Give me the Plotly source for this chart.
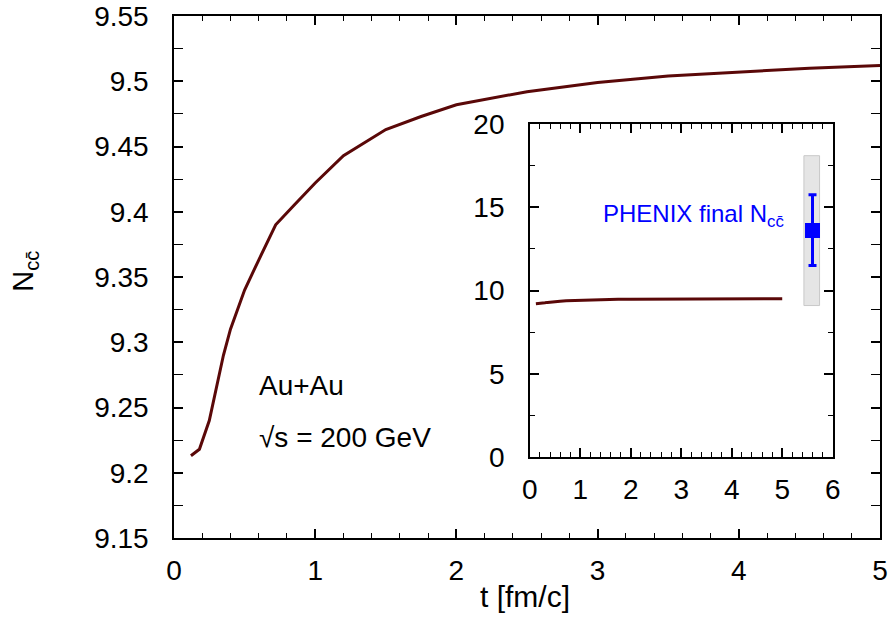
import plotly.graph_objects as go

# Main curve: N_ccbar vs t
t_vals = [0.12, 0.18, 0.25, 0.3, 0.35, 0.4, 0.5, 0.6, 0.72, 0.85, 1.0, 1.2, 1.5, 1.75, 2.0, 2.5, 3.0, 3.5, 4.0, 4.5, 5.0]
n_vals = [9.213, 9.218, 9.24, 9.265, 9.29, 9.31, 9.34, 9.363, 9.39, 9.405, 9.422, 9.443, 9.463, 9.473, 9.482, 9.492, 9.499, 9.504, 9.507, 9.510, 9.512]

# PHENIX point
phenix_x = [5.6]
phenix_y = [13.6]
phenix_err_plus = [2.15]
phenix_err_minus = [2.1]
phenix_sys = [9.1, 18.1]
phenix_band_x = [5.43, 5.74]

line_color = "#5a0808"
font_family = "Liberation Sans, Arial, sans-serif"
TICK = 28

fig = go.Figure()
fig.add_trace(go.Scatter(x=t_vals, y=n_vals, mode="lines",
                         line=dict(color=line_color, width=3), xaxis="x", yaxis="y",
                         showlegend=False))
# inset
fig.add_shape(type="rect", xref="x2", yref="y2",
              x0=phenix_band_x[0], x1=phenix_band_x[1], y0=phenix_sys[0], y1=phenix_sys[1],
              fillcolor="#e5e5e5", line=dict(color="#c8c8c8", width=1), layer="below")
fig.add_trace(go.Scatter(x=t_vals, y=n_vals, mode="lines",
                         line=dict(color=line_color, width=3), xaxis="x2", yaxis="y2",
                         showlegend=False))
fig.add_trace(go.Scatter(x=phenix_x, y=phenix_y, mode="markers",
                         marker=dict(symbol="square", size=15, color="#0000ff"),
                         error_y=dict(type="data", symmetric=False, array=phenix_err_plus,
                                      arrayminus=phenix_err_minus, color="#0000ff",
                                      thickness=3, width=4),
                         xaxis="x2", yaxis="y2", showlegend=False))

axis_common = dict(showline=True, linecolor="black", linewidth=1.5, mirror="ticks",
                   ticks="inside", tickcolor="black", showgrid=False, zeroline=False,
                   automargin=False, ticklabeloverflow="allow",
                   tickfont=dict(family=font_family, size=TICK, color="black"))

fig.update_layout(
    width=894, height=634,
    margin=dict(l=174, r=14, t=16, b=96),
    plot_bgcolor="white", paper_bgcolor="white",
    font=dict(family=font_family, color="black"),
    xaxis=dict(**axis_common, ticklabelstandoff=7, domain=[0, 1], range=[0, 5], dtick=1, tick0=0,
               ticklen=9, tickwidth=1.5,
               minor=dict(ticks="inside", dtick=0.2, ticklen=5, tickwidth=1.2, tickcolor="black")),
    yaxis=dict(**axis_common, ticklabelstandoff=18, domain=[0, 1], range=[9.15, 9.55], dtick=0.05,
               tick0=9.15, ticklen=9, tickwidth=1.5,
               minor=dict(ticks="inside", dtick=0.025, ticklen=9, tickwidth=1.2, tickcolor="black")),
    xaxis2=dict(**axis_common, ticklabelstandoff=7, domain=[0.504, 0.933], anchor="y2", range=[0, 6],
                dtick=1, tick0=0, ticklen=9, tickwidth=1.5,
                minor=dict(ticks="inside", dtick=0.2, ticklen=5, tickwidth=1.2, tickcolor="black")),
    yaxis2=dict(**axis_common, ticklabelstandoff=18, domain=[0.155, 0.793], anchor="x2", range=[0, 20],
                dtick=5, tick0=0, ticklen=9, tickwidth=1.5,
                minor=dict(ticks="inside", dtick=2.5, ticklen=5, tickwidth=1.2, tickcolor="black")),
    annotations=[
        dict(text="t [fm/c]", x=0.497, y=-0.113, xref="paper", yref="paper", showarrow=False,
             xanchor="center", yanchor="middle", font=dict(family=font_family, size=30, color="black")),
        dict(text="N<sub>cc̄</sub>", x=-0.211, y=0.51, xref="paper", yref="paper", showarrow=False,
             textangle=-90, xanchor="center", yanchor="middle",
             font=dict(family=font_family, size=29, color="black")),
        dict(text="Au+Au", x=0.59, y=9.267, xref="x", yref="y", showarrow=False,
             xanchor="left", yanchor="middle", font=dict(family=font_family, size=TICK, color="black")),
        dict(text="√s = 200 GeV", x=0.59, y=9.227, xref="x", yref="y", showarrow=False,
             xanchor="left", yanchor="middle", font=dict(family=font_family, size=TICK, color="black")),
        dict(text="PHENIX final N<sub>cc̄</sub>", x=5.07, y=14.5, xref="x2", yref="y2", showarrow=False,
             xanchor="right", yanchor="middle", font=dict(family=font_family, size=24, color="#0000ff")),
    ],
)

fig.write_html("out.html", config={"displayModeBar": False},
               post_script="document.body.style.margin='0';")
